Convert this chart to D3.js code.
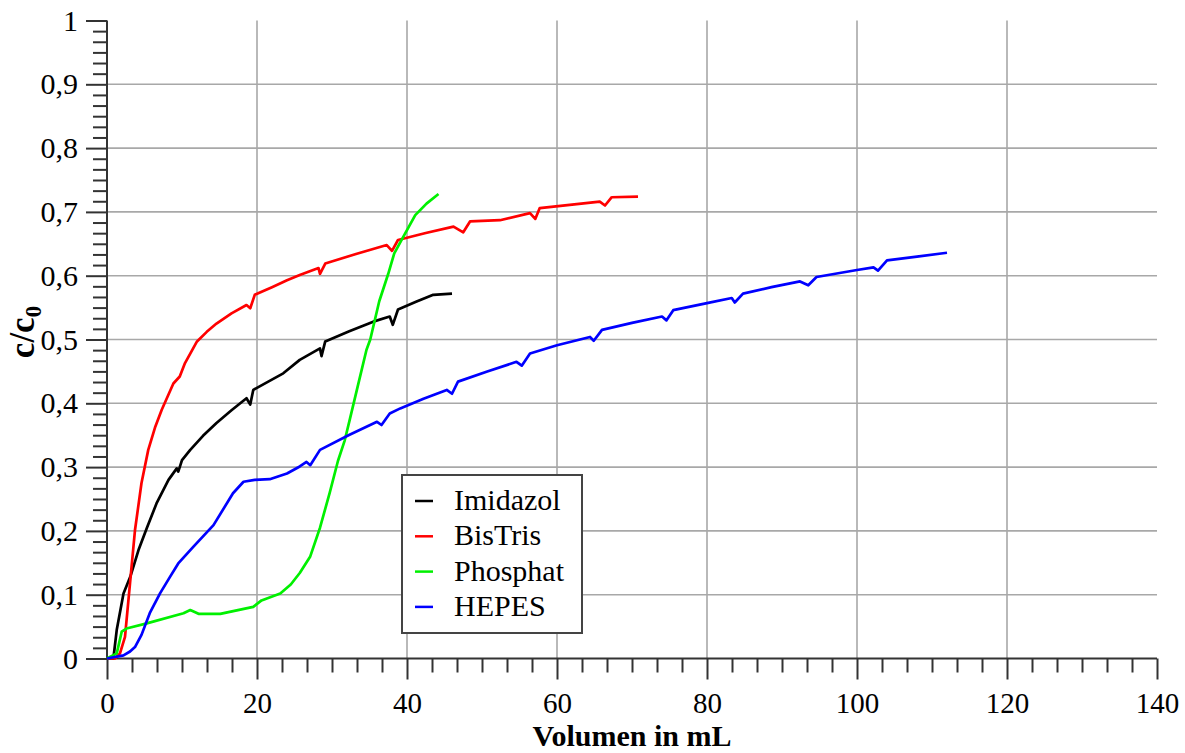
<!DOCTYPE html>
<html>
<head>
<meta charset="utf-8">
<script src="https://cdn.jsdelivr.net/npm/d3@7"></script>
<style>
  body { margin: 0; background: #fff; }
  svg text { font-family: "Liberation Serif", "Times New Roman", serif; fill: #000; }
</style>
</head>
<body>
<svg id="chart" width="1185" height="753"></svg>
<script>
// Series data: [volume mL, c/c0]
const imidazol = [
  [0, 0], [0.85, 0], [1.3, 0.045], [2.2, 0.102], [3.1, 0.128], [4.2, 0.17], [5.3, 0.204],
  [6.6, 0.243], [8.2, 0.28], [9.3, 0.298], [9.5, 0.293], [9.7, 0.3], [10.0, 0.311],
  [11.1, 0.327], [12.8, 0.349], [14.6, 0.369], [16.6, 0.389], [18.6, 0.408], [19.1, 0.398], [19.5, 0.421],
  [21.5, 0.434], [23.5, 0.447], [25.7, 0.468], [28.4, 0.486], [28.6, 0.474], [29.1, 0.497],
  [32.3, 0.513], [35.5, 0.528], [37.7, 0.536], [38.1, 0.523], [38.8, 0.547], [41.2, 0.559],
  [43.5, 0.57], [46.0, 0.572]
];
const bistris = [
  [0, 0], [1.07, 0], [1.73, 0.008], [2.4, 0.034], [3.07, 0.118], [3.73, 0.201], [4.6, 0.275],
  [5.5, 0.327], [6.4, 0.362], [7.3, 0.39], [8.85, 0.431], [9.7, 0.442], [10.4, 0.463], [12.0, 0.497],
  [13.3, 0.512], [14.6, 0.525], [16.6, 0.541], [18.6, 0.554], [19.1, 0.549], [19.7, 0.57],
  [22.0, 0.582], [24.0, 0.593], [25.7, 0.601], [28.2, 0.612], [28.4, 0.603], [29.1, 0.619],
  [33.2, 0.634], [37.3, 0.648], [38.0, 0.639], [38.8, 0.656], [42.5, 0.667], [46.2, 0.677],
  [47.5, 0.668], [48.4, 0.685], [52.4, 0.687], [56.4, 0.698], [57.1, 0.689], [57.7, 0.706],
  [61.7, 0.711], [65.7, 0.716], [66.4, 0.71], [67.3, 0.723], [70.8, 0.724]
];
const phosphat = [
  [0, 0], [1.3, 0.008], [1.96, 0.042], [2.6, 0.047], [5.3, 0.055], [10.2, 0.071], [11.1, 0.076],
  [12.2, 0.07], [15.1, 0.07], [19.5, 0.081], [20.6, 0.091], [23.1, 0.102], [24.5, 0.116],
  [25.7, 0.134], [27.1, 0.16], [28.4, 0.205], [29.7, 0.26], [30.8, 0.31], [31.7, 0.342],
  [32.4, 0.376], [33.5, 0.43], [34.6, 0.484], [35.1, 0.5], [36.3, 0.56], [37.5, 0.603],
  [38.3, 0.635], [39.5, 0.661], [41.1, 0.695], [42.6, 0.713], [44.2, 0.728]
];
const hepes = [
  [0, 0], [2.2, 0.005], [3.07, 0.011], [3.73, 0.018], [4.6, 0.037], [5.7, 0.071], [7.07, 0.102],
  [8.4, 0.128], [9.5, 0.149], [11.5, 0.175], [14.2, 0.209], [16.8, 0.259], [18.2, 0.277],
  [19.7, 0.28], [21.7, 0.281], [24.0, 0.29], [25.7, 0.301], [26.6, 0.308], [27.1, 0.303],
  [28.4, 0.327], [32.2, 0.35], [36.0, 0.371], [36.6, 0.366], [37.7, 0.384], [39.1, 0.392],
  [42.2, 0.407], [45.3, 0.421], [46.0, 0.415], [46.8, 0.434], [50.7, 0.45], [54.6, 0.465],
  [55.3, 0.459], [56.4, 0.478], [60.0, 0.491], [64.4, 0.504], [64.9, 0.498], [66.0, 0.515],
  [70.0, 0.526], [74.0, 0.536], [74.6, 0.53], [75.5, 0.546], [80.0, 0.557], [83.3, 0.565],
  [83.7, 0.558], [84.8, 0.572], [88.6, 0.582], [92.4, 0.591], [93.5, 0.585], [94.6, 0.598],
  [100.0, 0.609], [102.2, 0.613], [102.8, 0.608], [104.0, 0.624], [108.0, 0.63], [112.0, 0.636]
];

const seriesNames = ["Imidazol", "BisTris", "Phosphat", "HEPES"];
const seriesData = [imidazol, bistris, phosphat, hepes];
const seriesColors = ["#000000", "#ff0000", "#00f000", "#0000ff"];

const xTicks = [0, 20, 40, 60, 80, 100, 120, 140];
const yTicks = [0, 0.1, 0.2, 0.3, 0.4, 0.5, 0.6, 0.7, 0.8, 0.9, 1];

// Layout
const plot = { left: 107, right: 1157, top: 20.5, bottom: 658.5 };

const svg = d3.select("#chart");

const x = d3.scaleLinear().domain([0, 140]).range([plot.left, plot.right]);
const y = d3.scaleLinear().domain([0, 1]).range([plot.bottom, plot.top]);

const locale = d3.formatLocale({ decimal: ",", thousands: ".", grouping: [3], currency: ["", ""] });
const fmt = locale.format(".1~f");

// Grid lines
const grid = svg.append("g").attr("class", "grid");
grid.selectAll(".vgrid")
  .data(xTicks.filter(d => d > 0 && d < 140))
  .enter().append("line")
  .attr("x1", d => x(d)).attr("x2", d => x(d))
  .attr("y1", plot.top).attr("y2", plot.bottom)
  .style("stroke", "#a8a8a8").style("stroke-width", 1.6);
grid.selectAll(".hgrid")
  .data(yTicks.filter(d => d > 0 && d < 1))
  .enter().append("line")
  .attr("x1", plot.left).attr("x2", plot.right)
  .attr("y1", d => y(d)).attr("y2", d => y(d))
  .style("stroke", "#a8a8a8").style("stroke-width", 1.6);

// Minor ticks (6 subdivisions per major step)
const xMinor = d3.range(0, 140.001, 20 / 6).filter(v => Math.abs(v / 20 - Math.round(v / 20)) > 1e-6);
const yMinor = d3.range(0, 1.0001, 0.1 / 6).filter(v => Math.abs(v / 0.1 - Math.round(v / 0.1)) > 1e-6);

const xAxisMinor = svg.append("g")
  .attr("transform", `translate(0,${plot.bottom})`)
  .call(d3.axisBottom(x).tickValues(xMinor).tickSize(14).tickFormat(""));
const yAxisMinor = svg.append("g")
  .attr("transform", `translate(${plot.left},0)`)
  .call(d3.axisLeft(y).tickValues(yMinor).tickSize(14).tickFormat(""));

const xAxis = svg.append("g")
  .attr("transform", `translate(0,${plot.bottom})`)
  .call(d3.axisBottom(x).tickValues(xTicks).tickSize(21).tickPadding(13).tickFormat(d => d));
const yAxis = svg.append("g")
  .attr("transform", `translate(${plot.left},0)`)
  .call(d3.axisLeft(y).tickValues(yTicks).tickSize(21).tickPadding(8).tickFormat(fmt));

[xAxisMinor, yAxisMinor, xAxis, yAxis].forEach(g => {
  g.attr("font-family", null);
  g.select(".domain").remove();
  g.selectAll(".tick line").style("stroke", "#333").style("stroke-width", 2);
});
xAxis.selectAll(".tick text")
  .style("font-family", "'Liberation Serif', serif")
  .style("font-size", "29px")
  .style("fill", "#000");
yAxis.selectAll(".tick text")
  .style("font-family", "'Liberation Serif', serif")
  .style("font-size", "30px")
  .style("fill", "#000");

// Axis lines
svg.append("line")
  .attr("x1", plot.left).attr("x2", plot.right)
  .attr("y1", plot.bottom).attr("y2", plot.bottom)
  .style("stroke", "#333").style("stroke-width", 2);
svg.append("line")
  .attr("x1", plot.left).attr("x2", plot.left)
  .attr("y1", plot.top).attr("y2", plot.bottom)
  .style("stroke", "#333").style("stroke-width", 2);

// Curves
const line = d3.line().x(d => x(d[0])).y(d => y(d[1]));
svg.append("g").selectAll("path")
  .data(seriesData)
  .enter().append("path")
  .attr("d", line)
  .style("fill", "none")
  .style("stroke", (d, i) => seriesColors[i])
  .style("stroke-width", 2.7)
  .style("stroke-linejoin", "round");

// Axis titles
svg.append("text")
  .attr("x", 632)
  .attr("y", 746)
  .attr("text-anchor", "middle")
  .style("font-size", "30px")
  .style("font-weight", "bold")
  .text("Volumen in mL");

const yTitle = svg.append("text")
  .attr("transform", "translate(34,332) rotate(-90)")
  .attr("text-anchor", "middle")
  .style("font-size", "35px")
  .style("font-weight", "bold");
yTitle.append("tspan").text("c/c");
yTitle.append("tspan").attr("dy", 7).style("font-size", "23px").text("0");

// Legend
const legend = svg.append("g").attr("transform", "translate(402,475)");
legend.append("rect")
  .attr("width", 180).attr("height", 158)
  .style("fill", "#fff").style("stroke", "#444").style("stroke-width", 2);
const items = legend.selectAll(".item")
  .data(seriesNames)
  .enter().append("g")
  .attr("transform", (d, i) => `translate(0,${26 + i * 35.3})`);
items.append("line")
  .attr("x1", 13).attr("x2", 31)
  .style("stroke", (d, i) => seriesColors[i])
  .style("stroke-width", 2.5);
items.append("text")
  .attr("x", 52).attr("y", 9)
  .style("font-size", "30px")
  .text(d => d);
</script>
</body>
</html>
